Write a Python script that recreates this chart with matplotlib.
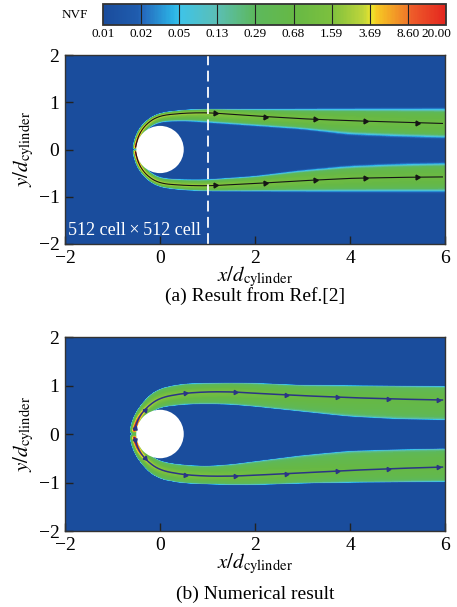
import numpy as np
import matplotlib
matplotlib.use('Agg')
import matplotlib.pyplot as plt
import matplotlib.transforms as mtransforms
from matplotlib.colors import LinearSegmentedColormap, Normalize
from matplotlib.cm import ScalarMappable
from matplotlib.patches import Circle

plt.rcParams['font.family'] = ['Liberation Serif', 'DejaVu Serif']
plt.rcParams['mathtext.fontset'] = 'stix'

# NVF colour bar labels
nvf_labels = ['0.01', '0.02', '0.05', '0.13', '0.29', '0.68', '1.59', '3.69', '8.60', '20.00']

# (a) reference result: streamline knots, band half widths (outer / inner side), log10 NVF on the core
a_up_x = [-0.52, -0.49, -0.42, -0.30, -0.15, 0.00, 0.50, 1.00, 2.00, 3.00, 4.00, 5.00, 6.00]
a_up_y = [0.00, 0.20, 0.38, 0.53, 0.65, 0.72, 0.77, 0.78, 0.71, 0.65, 0.61, 0.58, 0.55]
a_up_wo = [0.05, 0.05, 0.05, 0.05, 0.05, 0.05, 0.06, 0.07, 0.13, 0.19, 0.23, 0.26, 0.29]
a_up_wi = [0.03, 0.04, 0.06, 0.08, 0.10, 0.12, 0.15, 0.19, 0.19, 0.20, 0.27, 0.28, 0.28]
a_up_core = [1.40, 1.00, 0.70, 0.55, 0.45, 0.40, 0.35, 0.30, 0.10, 0.00, -0.05, -0.10, -0.10]

a_lo_x = [-0.52, -0.49, -0.42, -0.30, -0.15, 0.00, 0.50, 1.00, 2.00, 3.00, 4.00, 5.00, 6.00]
a_lo_y = [0.00, -0.20, -0.38, -0.53, -0.65, -0.72, -0.76, -0.77, -0.72, -0.66, -0.61, -0.59, -0.58]
a_lo_wo = [0.05, 0.05, 0.05, 0.05, 0.06, 0.07, 0.09, 0.10, 0.15, 0.21, 0.26, 0.28, 0.29]
a_lo_wi = [0.03, 0.04, 0.06, 0.08, 0.09, 0.10, 0.11, 0.12, 0.14, 0.20, 0.24, 0.26, 0.27]
a_lo_core = [1.40, 1.00, 0.70, 0.55, 0.45, 0.40, 0.35, 0.30, 0.10, 0.00, -0.05, -0.10, -0.10]
a_arrow_x = [1.16, 2.21, 3.26, 4.32, 5.41]

# (b) numerical result
b_up_x = [-0.55, -0.50, -0.38, -0.20, 0.00, 0.50, 1.00, 1.50, 2.00, 3.00, 4.00, 5.00, 6.00]
b_up_y = [0.03, 0.25, 0.45, 0.62, 0.75, 0.84, 0.87, 0.87, 0.84, 0.79, 0.75, 0.72, 0.70]
b_up_wo = [0.08, 0.09, 0.10, 0.13, 0.17, 0.18, 0.16, 0.17, 0.19, 0.20, 0.23, 0.25, 0.26]
b_up_wi = [0.08, 0.08, 0.10, 0.13, 0.18, 0.21, 0.23, 0.24, 0.25, 0.30, 0.36, 0.38, 0.38]
b_up_core = [1.60, 1.20, 0.60, 0.35, 0.25, 0.15, 0.10, 0.05, 0.00, -0.10, -0.15, -0.20, -0.20]

b_lo_x = [-0.55, -0.50, -0.38, -0.20, 0.00, 0.50, 1.00, 1.50, 2.00, 3.00, 4.00, 5.00, 6.00]
b_lo_y = [-0.03, -0.25, -0.45, -0.62, -0.75, -0.84, -0.87, -0.87, -0.85, -0.80, -0.75, -0.71, -0.68]
b_lo_wo = [0.08, 0.09, 0.10, 0.13, 0.16, 0.16, 0.15, 0.16, 0.18, 0.20, 0.23, 0.26, 0.28]
b_lo_wi = [0.08, 0.08, 0.10, 0.13, 0.16, 0.18, 0.19, 0.22, 0.26, 0.33, 0.37, 0.36, 0.35]
b_lo_core = [1.60, 1.20, 0.60, 0.35, 0.25, 0.15, 0.10, 0.05, 0.00, -0.10, -0.15, -0.20, -0.20]
b_arrow_x = [-0.53, -0.32, 0.53, 1.58, 2.65, 3.73, 4.80, 5.85]

LMIN, LMAX = np.log10(0.01), np.log10(20.0)

cmap = LinearSegmentedColormap.from_list('nvf', [
    (0.000, '#1a4c9c'), (0.100, '#1f5cae'), (0.115, '#2569bd'),
    (0.205, '#2bb4e6'), (0.225, '#3ec3e8'), (0.330, '#5bbfb6'),
    (0.440, '#5cb85e'), (0.555, '#66b845'), (0.666, '#7cc03e'),
    (0.760, '#c0d53a'), (0.785, '#ede52c'), (0.800, '#f6c823'),
    (0.888, '#f07a28'), (0.900, '#ee5c2a'), (1.000, '#e4261f')])


def smooth(v, n=15):
    pad = np.pad(v, n, mode='edge')
    return np.convolve(pad, np.ones(2 * n + 1) / (2 * n + 1), mode='same')[n:-n]


def resample(xs, ys, *extra, num=500):
    xs, ys = np.asarray(xs, float), np.asarray(ys, float)
    s = np.concatenate([[0], np.cumsum(np.hypot(np.diff(xs), np.diff(ys)))])
    ss = np.linspace(0, s[-1], num)
    return [smooth(np.interp(ss, s, v)) for v in (xs, ys) + extra]


def band_field(X, Y, xs, ys, wo, wi, core, outer_left, base, edge, fall):
    px, py, pwo, pwi, pc = resample(xs, ys, wo, wi, core)
    tx, ty = np.gradient(px), np.gradient(py)
    best = np.full(X.shape, np.inf)
    idx = np.zeros(X.shape, int)
    for k in range(len(px)):
        d = (X - px[k])**2 + (Y - py[k])**2
        m = d < best
        best[m] = d[m]
        idx[m] = k
    dist = np.sqrt(best)
    left = tx[idx] * (Y - py[idx]) - ty[idx] * (X - px[idx]) > 0
    outer = left if outer_left else ~left
    t = dist / np.where(outer, pwo[idx], pwi[idx])
    L = base + (pc[idx] - base) * np.exp(-(t / 0.45)**2) - (base - edge) * t**6
    L = np.where(t < 1, L, edge - (edge - LMIN) * (t - 1) / fall)
    return np.clip(L, LMIN, LMAX)


def draw_panel(ax, branches, arrow_x, line_color, lw, msize, base, edge, fall):
    X, Y = np.meshgrid(np.linspace(-2, 6, 561), np.linspace(-2, 2, 281))
    field = np.full(X.shape, LMIN)
    for xs, ys, wo, wi, core, outer_left in branches:
        field = np.maximum(field, band_field(X, Y, xs, ys, wo, wi, core, outer_left,
                                             base, edge, fall))
    ax.contourf(X, Y, field, levels=np.linspace(LMIN, LMAX, 90), cmap=cmap,
                vmin=LMIN, vmax=LMAX)
    ax.add_patch(Circle((0, 0), 0.5, facecolor='white', edgecolor='none', zorder=3))
    for xs, ys, *_ in branches:
        px, py = resample(xs, ys)
        ax.plot(px, py, color=line_color, lw=lw, zorder=4)
        for xa in arrow_x:
            ya = np.interp(xa, xs, ys)
            k = int(np.argmin(np.hypot(px - xa, py - ya)))
            k = min(max(k, 1), len(px) - 2)
            ang = np.degrees(np.arctan2(py[k + 1] - py[k - 1], px[k + 1] - px[k - 1]))
            ax.plot(px[k], py[k], marker=(3, 0, ang - 90), ms=msize, color=line_color,
                    zorder=5, lw=0)
    ax.set_xlim(-2, 6)
    ax.set_ylim(-2, 2)
    ax.set_xticks([-2, 0, 2, 4, 6])
    ax.set_yticks([-2, -1, 0, 1, 2])
    ax.tick_params(direction='in', length=6, width=1, labelsize=14, pad=4,
                   color='#222222')
    for sp in ax.spines.values():
        sp.set_linewidth(1.0)
        sp.set_color('#333333')
        sp.set_zorder(6)
    ax.set_xlabel(r'$x/d_{\rm cylinder}$', fontsize=15, labelpad=-1)
    ax.set_ylabel(r'$y/d_{\rm cylinder}$', fontsize=15, labelpad=2)


fig = plt.figure(figsize=(4.57, 6.07), dpi=100)
W, H = 457.0, 607.0

ax_a = fig.add_axes([65 / W, 1 - 244 / H, 380 / W, 189 / H])
draw_panel(ax_a, [(a_up_x, a_up_y, a_up_wo, a_up_wi, a_up_core, True),
                  (a_lo_x, a_lo_y, a_lo_wo, a_lo_wi, a_lo_core, False)],
           a_arrow_x, '#151515', 0.8, 4, -0.25, -1.35, 0.2)
ax_a.axvline(1.0, color='white', lw=1.3, ls=(0, (6, 3)), zorder=5)
ax_a.text(-1.94, -1.9, '512 cell\u2009\u00d7\u2009512 cell', color='white', fontsize=13,
          ha='left', va='bottom', zorder=6)

ax_b = fig.add_axes([65 / W, 1 - 531 / H, 380 / W, 194 / H])
draw_panel(ax_b, [(b_up_x, b_up_y, b_up_wo, b_up_wi, b_up_core, True),
                  (b_lo_x, b_lo_y, b_lo_wo, b_lo_wi, b_lo_core, False)],
           b_arrow_x, '#2b3585', 1.1, 3.5, -0.3, -0.8, 0.1)

fig.text(255 / W, 1 - 296 / H, '(a) Result from Ref.[2]', ha='center', va='center', fontsize=14)
fig.text(255 / W, 1 - 594 / H, '(b) Numerical result', ha='center', va='center', fontsize=14)

# colour bar along the top
cax = fig.add_axes([103 / W, 1 - 25 / H, 343 / W, 21 / H])
tick_pos = np.linspace(LMIN, LMAX, len(nvf_labels))
cb = fig.colorbar(ScalarMappable(norm=Normalize(LMIN, LMAX), cmap=cmap), cax=cax,
                  orientation='horizontal', ticks=tick_pos)
cb.ax.set_xticklabels(nvf_labels)
cb.ax.tick_params(length=0, labelsize=9.5, pad=2)
last = cb.ax.get_xticklabels()[-1]
last.set_horizontalalignment('right')
last.set_transform(last.get_transform() + mtransforms.ScaledTranslation(4 / 72, 0, fig.dpi_scale_trans))
cb.outline.set_linewidth(1.3)
cb.outline.set_edgecolor('#333333')
for p in tick_pos[1:-1]:
    cax.axvline(p, color='#222222', lw=0.8)
fig.text(75 / W, 1 - 15 / H, 'NVF', ha='center', va='center', fontsize=9.5)

fig.savefig('out.png', dpi=100)
